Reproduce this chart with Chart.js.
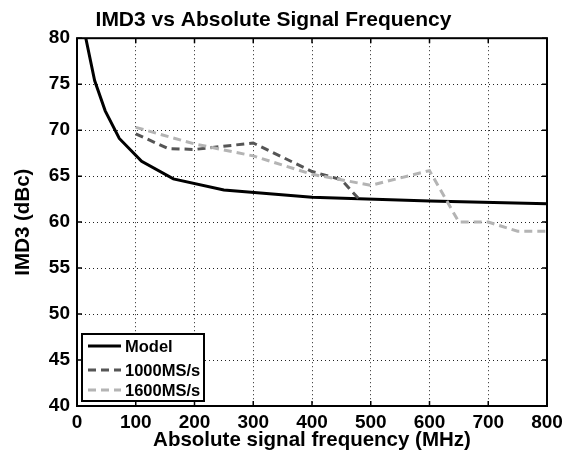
<!DOCTYPE html>
<html lang="en">
  <head>
    <meta charset="UTF-8" />
    <title>IMD3 vs Absolute Signal Frequency</title>
    <script src="https://cdn.jsdelivr.net/npm/chart.js@4.4.0/dist/chart.umd.min.js"></script>
    <style>
      body {
        margin: 0;
        background: #ffffff;
      }
      .chart-box {
        width: 576px;
        height: 459px;
        position: relative;
      }
    </style>
  </head>
  <body>
    <div class="chart-box">
      <canvas id="imdChart"></canvas>
    </div>

    <script>
      // values
      const modelFreq = [15, 30, 48, 72, 110, 164, 250, 400, 600, 800];
      const modelImd3 = [80, 75.4, 72.1, 69.1, 66.6, 64.7, 63.5, 62.7, 62.3, 62.0];

      const freq1000 = [100, 155, 200, 300, 400, 450, 480];
      const imd1000 = [69.6, 68.0, 67.9, 68.6, 65.5, 64.6, 62.5];

      const freq1600 = [100, 200, 300, 400, 500, 600, 650, 700, 750, 800];
      const imd1600 = [70.3, 68.5, 67.2, 65.2, 64.0, 65.6, 60.0, 60.0, 59.0, 59.0];

      const xTicks = [0, 100, 200, 300, 400, 500, 600, 700, 800];
      const yTicks = [40, 45, 50, 55, 60, 65, 70, 75, 80];

      const FONT = "'Liberation Sans', Arial, sans-serif";

      const toPoints = (xs, ys) => xs.map((x, i) => ({ x: x, y: ys[i] }));

      // box, inward ticks and legend like the matlab figure
      const frame = {
        id: "frame",
        afterDraw(chart) {
          const ctx = chart.ctx;
          const a = chart.chartArea;
          const xs = chart.scales.x;
          const ys = chart.scales.y;
          ctx.save();
          ctx.strokeStyle = "#000";
          ctx.lineWidth = 1.5;
          ctx.beginPath();
          xTicks.forEach((v) => {
            const px = xs.getPixelForValue(v);
            ctx.moveTo(px, a.bottom);
            ctx.lineTo(px, a.bottom - 5);
            ctx.moveTo(px, a.top);
            ctx.lineTo(px, a.top + 5);
          });
          yTicks.forEach((v) => {
            const py = ys.getPixelForValue(v);
            ctx.moveTo(a.left, py);
            ctx.lineTo(a.left + 5, py);
            ctx.moveTo(a.right, py);
            ctx.lineTo(a.right - 5, py);
          });
          ctx.stroke();
          ctx.lineWidth = 2;
          ctx.strokeRect(a.left, a.top, a.right - a.left, a.bottom - a.top);

          // legend
          const lx = a.left + 5;
          const ly = a.bottom - 72;
          ctx.fillStyle = "#fff";
          ctx.fillRect(lx, ly, 122, 67);
          ctx.strokeRect(lx, ly, 122, 67);
          ctx.font = "bold 16.5px " + FONT;
          ctx.textBaseline = "middle";
          const rows = [12, 36, 56];
          chart.data.datasets.forEach((ds, i) => {
            const ry = ly + rows[i];
            ctx.strokeStyle = ds.borderColor;
            ctx.lineWidth = 3;
            ctx.setLineDash(ds.borderDash || []);
            ctx.beginPath();
            ctx.moveTo(lx + 6, ry);
            ctx.lineTo(lx + 39, ry);
            ctx.stroke();
            ctx.setLineDash([]);
            ctx.fillStyle = "#000";
            ctx.fillText(ds.label, lx + 43, ry + 1);
          });
          ctx.restore();
        },
      };

      const ctx = document.getElementById("imdChart").getContext("2d");
      const imdChart = new Chart(ctx, {
        type: "line",
        data: {
          datasets: [
            {
              label: "Model",
              data: toPoints(modelFreq, modelImd3),
              borderColor: "#000000",
              borderWidth: 3,
              pointRadius: 0,
              tension: 0,
              order: 3,
            },
            {
              label: "1000MS/s",
              data: toPoints(freq1000, imd1000),
              borderColor: "#555555",
              borderWidth: 3,
              borderDash: [8, 5],
              pointRadius: 0,
              tension: 0,
              order: 2,
            },
            {
              label: "1600MS/s",
              data: toPoints(freq1600, imd1600),
              borderColor: "#b4b4b4",
              borderWidth: 3,
              borderDash: [8, 5],
              pointRadius: 0,
              tension: 0,
              order: 1,
            },
          ],
        },
        options: {
          responsive: true,
          maintainAspectRatio: false,
          animation: false,
          layout: { padding: { left: 0, right: 29, top: 0, bottom: 0 } },
          plugins: {
            legend: { display: false },
            tooltip: { enabled: false },
            title: {
              display: true,
              text: "IMD3 vs Absolute Signal Frequency",
              color: "#000",
              font: { family: FONT, size: 21, weight: "bold", lineHeight: 1.2 },
              padding: { top: 8, bottom: 5 },
            },
          },
          scales: {
            x: {
              type: "linear",
              min: 0,
              max: 800,
              afterBuildTicks: (s) => {
                s.ticks = xTicks.map((v) => ({ value: v }));
              },
              afterFit: (s) => {
                s.height = 53;
              },
              border: { display: false, dash: [1, 3] },
              grid: {
                color: "#222",
                lineWidth: 1,
                drawTicks: false,
              },
              ticks: {
                color: "#000",
                padding: 5,
                maxRotation: 0,
                font: { family: FONT, size: 19, weight: "bold" },
              },
              title: {
                display: true,
                text: "Absolute signal frequency (MHz)",
                color: "#000",
                font: { family: FONT, size: 20.5, weight: "bold" },
                padding: { top: 0, bottom: 6 },
              },
            },
            y: {
              min: 40,
              max: 80,
              afterBuildTicks: (s) => {
                s.ticks = yTicks.map((v) => ({ value: v }));
              },
              afterFit: (s) => {
                s.width = 77;
              },
              border: { display: false, dash: [1, 3] },
              grid: {
                color: "#222",
                lineWidth: 1,
                drawTicks: false,
              },
              ticks: {
                color: "#000",
                padding: 7,
                font: { family: FONT, size: 19, weight: "bold" },
              },
              title: {
                display: true,
                text: "IMD3 (dBc)",
                color: "#000",
                font: { family: FONT, size: 20.5, weight: "bold" },
                padding: { top: 11, bottom: 0 },
              },
            },
          },
        },
        plugins: [frame],
      });
    </script>
  </body>
</html>
